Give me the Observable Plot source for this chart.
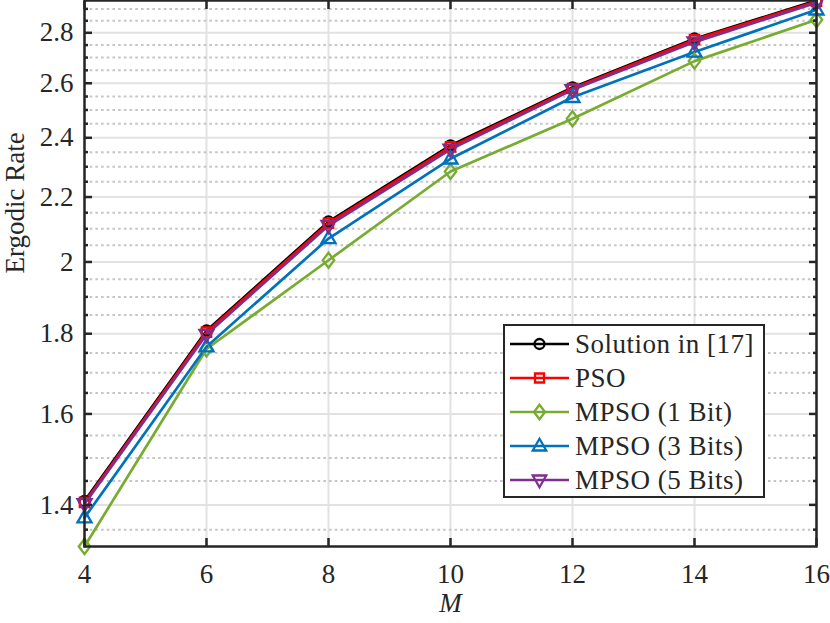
<!DOCTYPE html>
<html>
<head>
<meta charset="utf-8">
<script src="https://cdn.jsdelivr.net/npm/d3@7"></script>
<script src="https://cdn.jsdelivr.net/npm/@observablehq/plot@0.6"></script>
<style>
  body { margin: 0; background: white; }
  #wrap { position: relative; width: 830px; height: 623px; font-family: "Liberation Serif", serif; }
  #legend { position: absolute; left: 503px; top: 324px; }
  #wrap text { font-family: "Liberation Serif", serif; }
</style>
</head>
<body>
<div id="wrap"></div>
<script>
// ---- data ----
const M = [4, 6, 8, 10, 12, 14, 16];
const solution = [1.408, 1.808, 2.122, 2.373, 2.584, 2.776, 2.936];
const pso      = [1.405, 1.804, 2.117, 2.368, 2.580, 2.772, 2.932];
const mpso1    = [1.317, 1.760, 2.005, 2.284, 2.468, 2.686, 2.854];
const mpso3    = [1.374, 1.766, 2.070, 2.327, 2.547, 2.722, 2.896];
const mpso5    = [1.402, 1.798, 2.110, 2.360, 2.575, 2.762, 2.927];

const seriesNames = ["Solution in [17]", "PSO", "MPSO (1 Bit)", "MPSO (3 Bits)", "MPSO (5 Bits)"];
const seriesColors = ["#000000", "#ff0000", "#77ac30", "#0072bd", "#7e2f8e"];

const xTicks = [4, 6, 8, 10, 12, 14, 16];
const yMajor = [1.4, 1.6, 1.8, 2, 2.2, 2.4, 2.6, 2.8];
const yMinor = [1.35, 1.45, 1.5, 1.55, 1.65, 1.7, 1.75, 1.85, 1.9, 1.95, 2.05, 2.1, 2.15,
                2.25, 2.3, 2.35, 2.45, 2.5, 2.55, 2.65, 2.7, 2.75, 2.85, 2.9];

// ---- marker shapes ----
const symCircle = {draw(c, s) { const r = Math.sqrt(s / Math.PI); c.moveTo(r, 0); c.arc(0, 0, r, 0, 2 * Math.PI); }};
const symSquare = {draw(c, s) { const r = Math.sqrt(s / Math.PI) * 0.9; c.rect(-r, -r, 2 * r, 2 * r); }};
const symDiamond = {draw(c, s) { const r = Math.sqrt(s / Math.PI); c.moveTo(0, -1.45 * r); c.lineTo(1.1 * r, 0); c.lineTo(0, 1.45 * r); c.lineTo(-1.1 * r, 0); c.closePath(); }};
const symTriUp = {draw(c, s) { const r = Math.sqrt(s / Math.PI); c.moveTo(0, -1.45 * r); c.lineTo(1.35 * r, 0.9 * r); c.lineTo(-1.35 * r, 0.9 * r); c.closePath(); }};
const symTriDown = {draw(c, s) { const r = Math.sqrt(s / Math.PI); c.moveTo(0, 1.45 * r); c.lineTo(1.35 * r, -0.9 * r); c.lineTo(-1.35 * r, -0.9 * r); c.closePath(); }};
const seriesSymbols = [symCircle, symSquare, symDiamond, symTriUp, symTriDown];

const seriesValues = [solution, pso, mpso1, mpso3, mpso5];
const series = seriesNames.map((name, k) => ({
  name, color: seriesColors[k], symbol: seriesSymbols[k],
  rows: M.map((m, i) => ({M: m, v: seriesValues[k][i]}))
}));
const allValues = seriesValues.flat();

const font = "Liberation Serif, serif";
const ink = "#262626";
const noText = () => "";

const chart = Plot.plot({
  width: 830,
  height: 623,
  marginLeft: 84,
  marginRight: 14,
  marginTop: 0,
  marginBottom: 77,
  style: {fontFamily: font, fontSize: "27px", color: ink, background: "white", overflow: "visible"},
  x: {domain: [4, 16]},
  y: {type: "log", domain: d3.extent(allValues)},
  marks: [
    Plot.gridX(xTicks, {stroke: "#e2e2e2", strokeOpacity: 1, strokeWidth: 2}),
    Plot.ruleY(yMinor, {stroke: "#c4c4c4", strokeWidth: 2, strokeDasharray: "2.5,3.2"}),
    Plot.gridY(yMajor, {stroke: "#e2e2e2", strokeOpacity: 1, strokeWidth: 2}),
    ...series.map(s => Plot.line(s.rows, {x: "M", y: "v", stroke: s.color, strokeWidth: 2.7})),
    ...series.map(s => Plot.dot(s.rows, {x: "M", y: "v", stroke: s.color, symbol: s.symbol, r: 5.2, strokeWidth: 2.3, fill: "none"})),
    Plot.frame({stroke: ink, strokeWidth: 2.5}),
    // inward ticks
    Plot.axisY(yMajor, {anchor: "left", tickSize: 8, dx: 8, tickFormat: noText, label: null, strokeWidth: 2.5}),
    Plot.axisY(yMinor, {anchor: "left", tickSize: 4, dx: 4, tickFormat: noText, label: null, strokeWidth: 2.5}),
    Plot.axisY(yMajor, {anchor: "right", tickSize: 8, dx: -8, tickFormat: noText, label: null, strokeWidth: 2.5}),
    Plot.axisY(yMinor, {anchor: "right", tickSize: 4, dx: -4, tickFormat: noText, label: null, strokeWidth: 2.5}),
    Plot.axisX(xTicks, {anchor: "bottom", tickSize: 8, dy: -8, tickFormat: noText, label: null, strokeWidth: 2.5}),
    Plot.axisX(xTicks, {anchor: "top", tickSize: 8, dy: 8, tickFormat: noText, label: null, strokeWidth: 2.5}),
    // tick labels
    Plot.axisY(yMajor, {anchor: "left", tickSize: 0, tickPadding: 11, tickFormat: d => String(d), label: null, fontSize: 27, fill: ink}),
    Plot.axisX(xTicks, {anchor: "bottom", tickSize: 0, tickPadding: 17, tickFormat: d => String(d), label: null, fontSize: 27, fill: ink}),
    // axis titles
    Plot.text(["M"], {text: d => d, frameAnchor: "bottom", dy: 65, fontStyle: "italic", fontSize: 27, fill: ink}),
    Plot.text(["Ergodic Rate"], {text: d => d, frameAnchor: "left", dx: -69, rotate: -90, fontSize: 27, fill: ink})
  ]
});
document.getElementById("wrap").appendChild(chart);

// ---- legend (inside the axes) ----
const lw = 262, lh = 174, rowY0 = 20, rowStep = 34;
const leg = d3.select("#wrap").append("svg").attr("id", "legend")
  .attr("width", lw).attr("height", lh);
leg.append("rect").attr("x", 1).attr("y", 1).attr("width", lw - 2).attr("height", lh - 2)
  .attr("fill", "white").attr("stroke", ink).attr("stroke-width", 2);
series.forEach((s, k) => {
  const g = leg.append("g").attr("transform", `translate(0,${rowY0 + k * rowStep})`);
  g.append("line").attr("x1", 7).attr("x2", 66).attr("y1", 0).attr("y2", 0)
    .attr("stroke", s.color).attr("stroke-width", 2.7);
  g.append("path").attr("transform", "translate(36.5,0)")
    .attr("d", d3.symbol(s.symbol, Math.PI * 25)())
    .attr("fill", "none").attr("stroke", s.color).attr("stroke-width", 2.3);
  g.append("text").attr("x", 72).attr("y", 0).attr("dy", "0.35em")
    .attr("font-family", font).attr("font-size", 27).attr("fill", ink)
    .attr("letter-spacing", "0.5px")
    .text(s.name);
});
</script>
</body>
</html>
